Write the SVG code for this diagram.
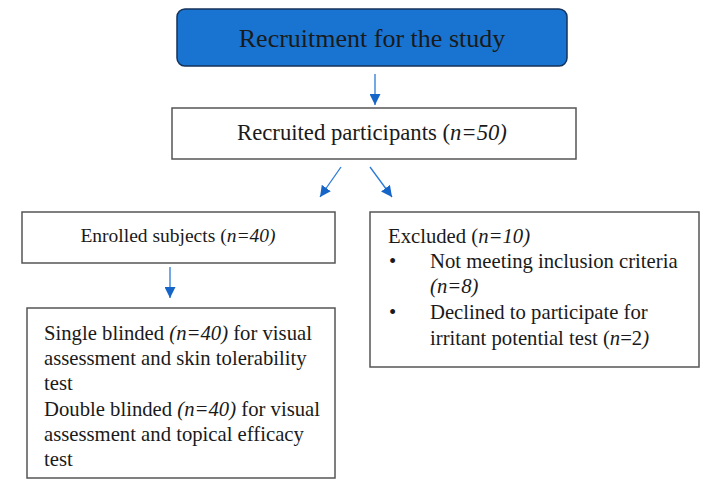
<svg xmlns="http://www.w3.org/2000/svg" width="713" height="496" viewBox="0 0 713 496" font-family="'Liberation Serif', serif">
<style>
text{font-family:'Liberation Serif','Times New Roman',serif;fill:#1a1a1a}
.box{fill:#fff;stroke:#555;stroke-width:1.5}
.con{stroke:#2a7ad8;stroke-width:1.3;fill:none}
</style>
<defs>
<marker id="ah" viewBox="0 0 10 10" refX="10" refY="5" markerWidth="11" markerHeight="11" markerUnits="userSpaceOnUse" orient="auto">
<path d="M0,0 L10,5 L0,10 Z" fill="#1565c8"/>
</marker>
</defs>
<rect width="713" height="496" fill="#fff"/>
<g id="n-recruitment">
<rect x="177" y="9" width="390" height="57" rx="8" fill="#1874d0" stroke="#14325a" stroke-width="1.5"/>
<text x="372" y="47" font-size="26" text-anchor="middle">Recruitment for the study</text>
</g>
<g id="n-recruited">
<rect class="box" x="172" y="108" width="404" height="51"/>
<text x="372" y="140" font-size="22.7" text-anchor="middle">Recruited participants (<tspan font-style="italic">n=50)</tspan></text>
</g>
<g id="n-enrolled">
<rect class="box" x="22" y="212" width="313" height="51"/>
<text x="178" y="242" font-size="19.5" text-anchor="middle">Enrolled subjects (<tspan font-style="italic">n=40)</tspan></text>
</g>
<g id="n-excluded">
<rect class="box" x="370" y="212" width="329" height="155"/>
<text font-size="20.7">
<tspan x="388" y="243">Excluded (<tspan font-style="italic">n=10)</tspan></tspan>
<tspan x="389" y="268">•</tspan>
<tspan x="430" y="268">Not meeting inclusion criteria</tspan>
<tspan x="430" y="293" font-style="italic">(n=8)</tspan>
<tspan x="389" y="319">•</tspan>
<tspan x="430" y="319">Declined to participate for</tspan>
<tspan x="430" y="345">irritant potential test (<tspan font-style="italic">n</tspan>=2<tspan font-style="italic">)</tspan></tspan>
</text>
</g>
<g id="n-blinded">
<rect class="box" x="27" y="308" width="308" height="170"/>
<text font-size="20.7">
<tspan x="44" y="340">Single blinded <tspan font-style="italic">(n=40)</tspan> for visual</tspan>
<tspan x="44" y="365">assessment and skin tolerability</tspan>
<tspan x="44" y="390">test</tspan>
<tspan x="44" y="416">Double blinded <tspan font-style="italic">(n=40)</tspan> for visual</tspan>
<tspan x="44" y="441">assessment and topical efficacy</tspan>
<tspan x="44" y="466">test</tspan>
</text>
</g>
<g id="connectors">
<line class="con" x1="375" y1="74" x2="375" y2="105" marker-end="url(#ah)"/>
<line class="con" x1="341" y1="167" x2="320" y2="197" marker-end="url(#ah)"/>
<line class="con" x1="370" y1="167" x2="392" y2="197" marker-end="url(#ah)"/>
<line class="con" x1="170" y1="267" x2="170" y2="298" marker-end="url(#ah)"/>
</g>
</svg>
